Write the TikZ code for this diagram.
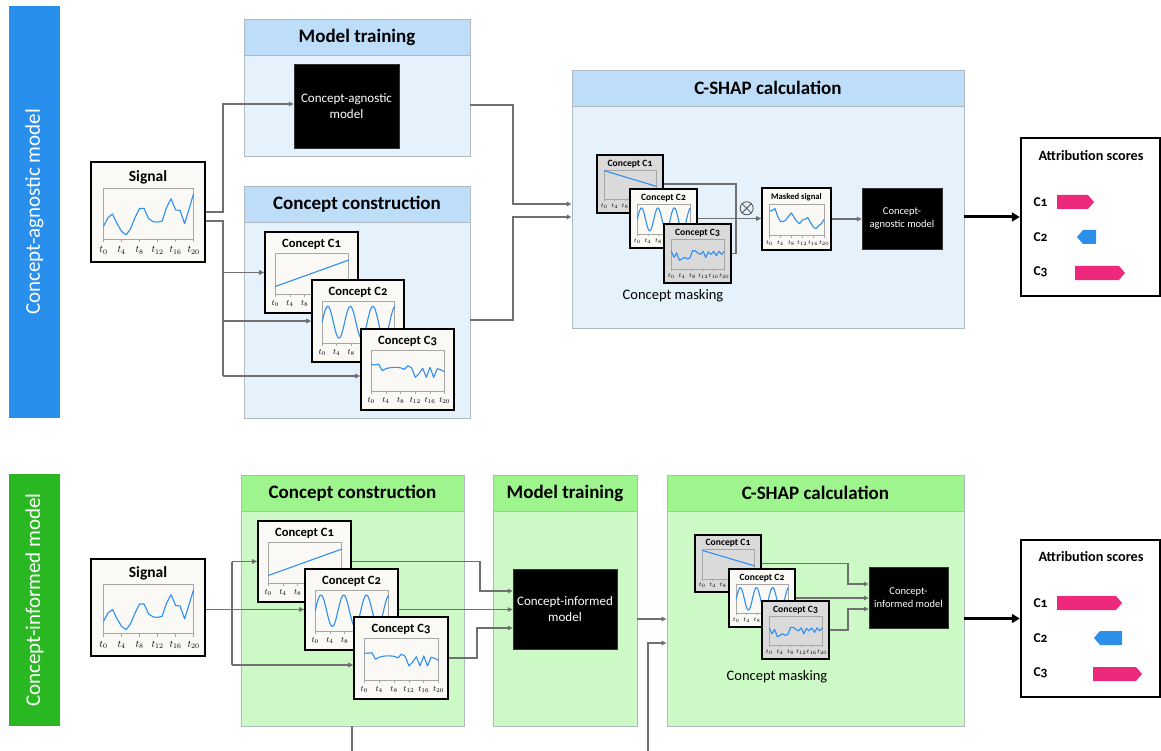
\documentclass[tikz,border=0pt]{standalone}
\usepackage{fontspec}
\setmainfont{Carlito}[Numbers=OldStyle]
\usetikzlibrary{arrows.meta}

\definecolor{barblue}{RGB}{41,143,236}
\definecolor{bargreen}{RGB}{42,184,34}
\definecolor{hdblue}{RGB}{189,221,248}
\definecolor{bdblue}{RGB}{229,242,252}
\definecolor{hdgreen}{RGB}{158,245,142}
\definecolor{bdgreen}{RGB}{205,249,198}
\definecolor{paper}{RGB}{250,249,245}
\definecolor{shade}{RGB}{218,218,218}
\definecolor{wave}{RGB}{47,143,240}
\definecolor{posbar}{RGB}{238,40,122}
\definecolor{negbar}{RGB}{44,143,234}
\definecolor{wire}{RGB}{112,112,112}
\definecolor{frame}{RGB}{176,184,192}

\tikzset{
  panelbox/.style={draw=frame, line width=0.8pt, inner sep=0pt},
  chartbox/.style={draw=black, line width=1.6pt, inner sep=0pt},
  modelbox/.style={fill=black, draw=black!80, text=white, align=center, inner sep=0pt},
  scorebox/.style={draw=black, line width=2.4pt, fill=white, inner sep=0pt},
  conn/.style={draw=wire, line width=1.3pt},
  arr/.style={conn, -{Triangle[length=5pt,width=4.5pt]}},
  bigarr/.style={draw=black, line width=3pt, -{Triangle[length=8pt,width=9pt]}},
  axisbox/.style={draw=gray!70, line width=0.7pt},
  trace/.style={draw=wave, line width=1.1pt, line join=round},
  sidetext/.style={rotate=90, text=white, font=\fontsize{21}{24}\selectfont},
  clabel/.style={anchor=west, font=\fontsize{13.5}{16}\selectfont\bfseries},
}

% rectangle node given by its corners (x1,y1)-(x2,y2)
\newcommand\boxat[7]{%
  \node[#6, minimum width={(#4)-(#2)}, minimum height={(#5)-(#3)}]
    (#1) at ({((#2)+(#4))/2},{((#3)+(#5))/2}) {#7};}

% panel with a coloured header strip
\newcommand\panel[8]{%
  \boxat{#1}{#2}{#3}{#4}{#5}{panelbox, fill=#8}{}
  \boxat{#1-head}{#2}{#3}{#4}{#3+36}{panelbox, fill=#7,
    font=\fontsize{19}{22}\selectfont\bfseries}{#6}}

% framed mini chart: name, x1, y1, x2, y2, title, fill, title size
\newcommand\chartframe[8]{%
  \pgfmathsetmacro\chW{(#4)-(#2)}\pgfmathsetmacro\chH{(#5)-(#3)}%
  \pgfmathsetmacro\pxa{#2+0.11*\chW}\pgfmathsetmacro\pxb{#4-0.1*\chW}%
  \pgfmathsetmacro\pya{#3+0.26*\chH}\pgfmathsetmacro\pyb{#3+0.77*\chH}%
  \pgfmathsetmacro\lblsize{0.66*#8}%
  \boxat{#1}{#2}{#3}{#4}{#5}{chartbox, fill=#7}{}
  \node[font=\fontsize{#8}{#8}\selectfont\bfseries] (#1-title)
    at ({(#2+#4)/2},{#3+0.15*\chH}) {#6};
  \draw[axisbox] (\pxa,\pya) rectangle (\pxb,\pyb);
  \foreach \k [count=\j from 0] in {0,4,8,12,16,20} {
    \pgfmathsetmacro\tx{\pxa+\j*(\pxb-\pxa)/5}
    \draw[axisbox] (\tx,\pyb) -- (\tx,{\pyb+0.03*\chH});
    \node[font=\fontsize{\lblsize}{\lblsize}\selectfont, inner sep=0pt]
      at (\tx,{#3+0.885*\chH}) {$t_{\k}$};
  }}

% polyline through equally spaced samples in the current chart
\newcommand\series[1]{%
  \gdef\sercount{0}%
  \foreach \v in {#1} {\pgfmathtruncatemacro\tmpn{\sercount+1}\xdef\sercount{\tmpn}}%
  \gdef\serpath{}%
  \foreach \v [count=\i from 0] in {#1} {%
    \pgfmathsetmacro\sx{\pxa+\i*(\pxb-\pxa)/(\sercount-1)}%
    \pgfmathsetmacro\sy{\pyb-\v*(\pyb-\pya)}%
    \xdef\serpath{\serpath (\sx,\sy)}}%
  \edef\tmpdraw{\noexpand\draw[trace] plot coordinates {\serpath};}\tmpdraw}

% periodic concept in the current chart
\newcommand\sinewave{%
  \draw[trace] plot[domain=0:20, samples=81, smooth]
    ({\pxa+\x*(\pxb-\pxa)/20}, {\pyb-(0.5+0.38*sin(360*\x/6.2))*(\pyb-\pya)});}

% score arrows
\newcommand\barright[4]{\fill[#4] (#1,#3-7) -- (#2-6,#3-7) -- (#2,#3) -- (#2-6,#3+7) -- (#1,#3+7) -- cycle;}
\newcommand\barleft[4]{\fill[#4] (#2,#3-7) -- (#1+6,#3-7) -- (#1,#3) -- (#1+6,#3+7) -- (#2,#3+7) -- cycle;}

\begin{document}
\begin{tikzpicture}[x=1pt, y=-1pt, font=\fontsize{12}{14}\selectfont]
\useasboundingbox (0,0) rectangle (1161,751);
\fill[white] (0,0) rectangle (1161,751);

% ---------- side labels ----------
\boxat{sideA}{9}{6}{60}{418}{fill=barblue, inner sep=0pt}{}
\node[sidetext] (sideAtxt) at (sideA.center) {Concept-agnostic model};
\boxat{sideB}{9}{474}{60}{726}{fill=bargreen, inner sep=0pt}{}
\node[sidetext] (sideBtxt) at (sideB.center) {Concept-informed model};

% ---------- panels ----------
\panel{mtA}{244}{19}{470}{156}{Model training}{hdblue}{bdblue}
\panel{ccA}{244}{186}{470}{418}{Concept construction}{hdblue}{bdblue}
\panel{csA}{572}{70}{964}{328}{C-SHAP calculation}{hdblue}{bdblue}
\panel{ccB}{241}{475}{464}{726}{Concept construction}{hdgreen}{bdgreen}
\panel{mtB}{493}{475}{637}{726}{Model training}{hdgreen}{bdgreen}
\panel{csB}{667}{475}{964}{726}{C-SHAP calculation}{hdgreen}{bdgreen}

% ---------- models ----------
\boxat{mtAm}{294}{64}{399}{148}{modelbox, font=\fontsize{13}{15.5}\selectfont}{Concept-agnostic\\model}
\boxat{csAm}{862}{188}{942}{249}{modelbox, font=\fontsize{10.5}{12.7}\selectfont}{Concept-\\agnostic model}
\boxat{mtBm}{513}{569}{617}{649}{modelbox, font=\fontsize{13}{15.5}\selectfont}{Concept-informed\\model}
\boxat{csBm}{869}{567}{948}{628}{modelbox, font=\fontsize{10.5}{12.7}\selectfont}{Concept-\\informed model}

% ---------- concept-agnostic row ----------
\chartframe{sigA}{91}{162}{205}{262}{Signal}{paper}{15.5}
\series{0.25,0.42,0.49,0.30,0.15,0.08,0.2,0.42,0.6,0.6,0.4,0.34,0.33,0.35,0.62,0.79,0.57,0.56,0.3,0.59,0.89}

\chartframe{ccA1}{265}{232}{358}{313}{Concept C1}{paper}{12.6}
\series{0.19,0.83}
\chartframe{ccA2}{312}{280}{404}{362}{Concept C2}{paper}{12.6}
\sinewave
\chartframe{ccA3}{361}{329}{454}{410}{Concept C3}{paper}{12.6}
\series{0.65,0.64,0.66,0.5,0.55,0.57,0.58,0.58,0.57,0.53,0.62,0.57,0.34,0.43,0.56,0.34,0.58,0.34,0.55,0.52,0.47}

\chartframe{csA1}{597}{155}{663}{213}{Concept C1}{shade}{9.6}
\series{0.98,0.45}
\chartframe{csA2}{630}{189}{697}{248}{Concept C2}{paper}{9.6}
\sinewave
\chartframe{csA3}{664}{224}{731}{283}{Concept C3}{shade}{9.6}
\series{0.6,0.4,0.55,0.3,0.35,0.4,0.35,0.38,0.62,0.62,0.55,0.5,0.6,0.4,0.58,0.5,0.6,0.45,0.6,0.5,0.6}
\chartframe{maskA}{762}{188}{831}{250}{Masked signal}{paper}{8.6}
\series{0.78,0.8,0.86,0.6,0.45,0.45,0.5,0.62,0.72,0.58,0.45,0.38,0.5,0.52,0.58,0.42,0.28,0.22,0.32,0.38,0.52}

\node[font=\fontsize{14.5}{17}\selectfont] (maskingA) at (673,296) {Concept masking};
\node[circle, draw=black!70, line width=0.8pt, minimum size=13pt, inner sep=0pt] (ox) at (746.7,208.3) {};
\draw[black!70, line width=0.8pt] (ox.north west) -- (ox.south east) (ox.north east) -- (ox.south west);

% connectors, concept-agnostic row
\draw[arr] (sigA.east) -- (223,212) |- ([yshift=2pt]mtAm.west);
\draw[conn] ([yshift=-9pt]sigA.east) -- (223,221) -- (223,376);
\coordinate (jA) at (223,300);
\draw[arr] (ccA1.west -| jA) -- (ccA1.west);
\draw[arr] (ccA2.west -| jA) -- (ccA2.west);
\draw[arr] ([yshift=-6.5pt]ccA3.west -| jA) -- ([yshift=-6.5pt]ccA3.west);
\draw[arr] ([yshift=-17.5pt]mtA.east) -- (513,105) |- ([yshift=-5pt]csA.west);
\draw[arr] ([yshift=-18pt]ccA.east) -- (513,320) |- ([yshift=-18pt]csA.west);
\draw[conn] (csA1.east) -- (736,184) |- (csA3.east);
\draw[arr] (csA2.east) -- (csA2.east -| maskA.west);
\draw[arr] (maskA.east) -- (maskA.east -| csAm.west);

% attribution, concept-agnostic row
\boxat{attrA}{1021}{138}{1160}{296}{scorebox}{}
\draw[bigarr] (attrA.west -| csA.east) -- (attrA.west);
\node[font=\fontsize{14.2}{16}\selectfont\bfseries] (attrAt) at (1091,156) {Attribution scores};
\node[clabel] (attrA1) at (1030,202) {C1};
\node[clabel] (attrA2) at (1030,237) {C2};
\node[clabel] (attrA3) at (1030,272) {C3};
\barright{1057}{1094}{202}{posbar}
\barleft{1077}{1096}{237}{negbar}
\barright{1075}{1125}{273}{posbar}

% ---------- concept-informed row ----------
\chartframe{sigB}{91}{559}{205}{656}{Signal}{paper}{15.5}
\series{0.25,0.42,0.49,0.30,0.15,0.08,0.2,0.42,0.6,0.6,0.4,0.34,0.33,0.35,0.62,0.79,0.57,0.56,0.3,0.59,0.89}

\chartframe{ccB1}{258}{521}{351}{602}{Concept C1}{paper}{12.6}
\series{0.19,0.83}
\chartframe{ccB2}{305}{569}{398}{650}{Concept C2}{paper}{12.6}
\sinewave
\chartframe{ccB3}{354}{617}{448}{699}{Concept C3}{paper}{12.6}
\series{0.65,0.64,0.66,0.5,0.55,0.57,0.58,0.58,0.57,0.53,0.62,0.57,0.34,0.43,0.56,0.34,0.58,0.34,0.55,0.52,0.47}

\chartframe{csB1}{695}{535}{761}{592}{Concept C1}{shade}{9.6}
\series{0.98,0.45}
\chartframe{csB2}{729}{569}{795}{627}{Concept C2}{paper}{9.6}
\sinewave
\chartframe{csB3}{762}{601}{829}{659}{Concept C3}{shade}{9.6}
\series{0.6,0.4,0.55,0.3,0.35,0.4,0.35,0.38,0.62,0.62,0.55,0.5,0.6,0.4,0.58,0.5,0.6,0.45,0.6,0.5,0.6}

\node[font=\fontsize{14.5}{17}\selectfont] (maskingB) at (777,677) {Concept masking};

% connectors, concept-informed row
\draw[arr] (sigB.east |- ccB2.west) -- (ccB2.west);
\coordinate (jB) at (232,600);
\draw[conn] (232,561.5) -- (232,665);
\draw[arr] (ccB1.west -| jB) -- (ccB1.west);
\draw[arr] ([yshift=-7pt]ccB3.west -| jB) -- ([yshift=-7pt]ccB3.west);
\draw[arr] (ccB1.east) -- (480,561.5) |- ([yshift=18pt]mtBm.west);
\draw[arr] (ccB2.east) -- (ccB2.east -| mtBm.west);
\draw[arr] (ccB3.east) -- (477,658) |- ([yshift=-19pt]mtBm.west);
\draw[arr] ([yshift=-18.5pt]mtB.east) -- ([yshift=-18.5pt]csB.west);
\coordinate (outB1) at (352,751);
\coordinate (outB2) at (648,751);
\draw[conn] (outB1 |- ccB.south) -- (outB1);
\draw[arr] (outB2) |- ([yshift=-42.5pt]csB.west);
\draw[arr] (csB1.east) -- (848,563.5) |- ([yshift=13.5pt]csBm.west);
\draw[arr] (csB2.east) -- (csB2.east -| csBm.west);
\draw[arr] (csB3.east) -- (848,630) |- ([yshift=-11.5pt]csBm.west);

% attribution, concept-informed row
\boxat{attrB}{1021}{540}{1160}{697}{scorebox}{}
\draw[bigarr] (attrB.west -| csB.east) -- (attrB.west);
\node[font=\fontsize{14.2}{16}\selectfont\bfseries] (attrBt) at (1091,557) {Attribution scores};
\node[clabel] (attrB1) at (1030,603) {C1};
\node[clabel] (attrB2) at (1030,638) {C2};
\node[clabel] (attrB3) at (1030,673) {C3};
\barright{1057}{1122}{603}{posbar}
\barleft{1094}{1122}{638}{negbar}
\barright{1093}{1142}{674}{posbar}
\end{tikzpicture}
\end{document}
